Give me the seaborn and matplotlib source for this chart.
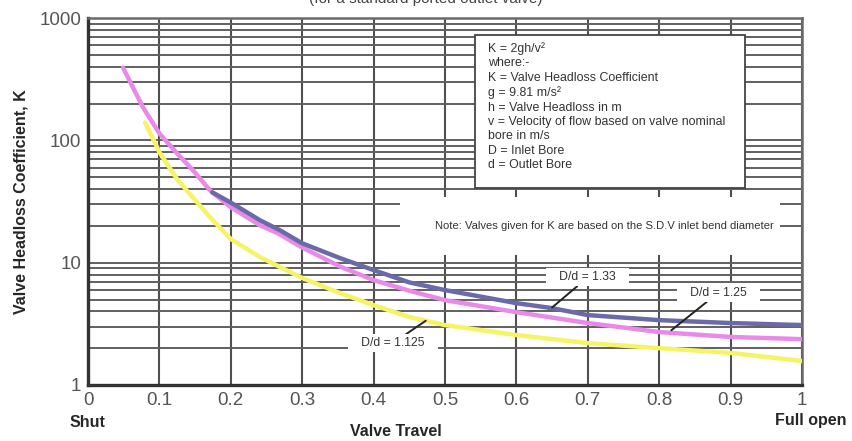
import numpy as np
import pandas as pd
import matplotlib
matplotlib.use("Agg")
import matplotlib.pyplot as plt
import seaborn as sns
from matplotlib.patches import Rectangle
from matplotlib.ticker import FixedLocator, LogLocator, NullFormatter

# Curves: valve travel vs headloss coefficient K
travel_133 = [0.174, 0.2, 0.241, 0.269, 0.3, 0.353, 0.4, 0.45, 0.5, 0.6, 0.65, 0.7, 0.8, 0.9, 1.0]
k_133 = [37.6, 31, 22.2, 18.4, 14.4, 10.9, 8.7, 6.9, 5.97, 4.67, 4.25, 3.73, 3.39, 3.21, 3.09]

travel_125 = [0.049, 0.077, 0.1, 0.125, 0.147, 0.171, 0.2, 0.241, 0.265, 0.3, 0.353,
              0.4, 0.45, 0.5, 0.6, 0.7, 0.8, 0.9, 1.0]
k_125 = [394, 186, 114, 78, 57, 39, 28.4, 20.2, 17.5, 13.3, 9.3,
         7.2, 5.9, 4.94, 3.94, 3.21, 2.71, 2.47, 2.37]

travel_1125 = [0.08, 0.1, 0.125, 0.147, 0.171, 0.2, 0.241, 0.3, 0.353, 0.4, 0.45,
               0.5, 0.6, 0.7, 0.8, 0.9, 1.0]
k_1125 = [140, 80, 48, 34, 23.5, 15.6, 11.1, 7.5, 5.64, 4.5, 3.6,
          3.09, 2.56, 2.2, 2.0, 1.83, 1.57]

x_ticks = [0, 0.1, 0.2, 0.3, 0.4, 0.5, 0.6, 0.7, 0.8, 0.9, 1]
x_tick_labels = ["0", "0.1", "0.2", "0.3", "0.4", "0.5", "0.6", "0.7", "0.8", "0.9", "1"]
y_ticks = [1, 10, 100, 1000]
y_tick_labels = ["1", "10", "100", "1000"]

box_text = ("K = 2gh/v\u00b2\nwhere:-\nK = Valve Headloss Coefficient\n"
            "g = 9.81 m/s\u00b2\nh = Valve Headloss in m\n"
            "v = Velocity of flow based on valve nominal\nbore in m/s\n"
            "D = Inlet Bore\nd = Outlet Bore")
note_text = "Note: Valves given for K are based on the S.D.V inlet bend diameter"

sns.set_style("white")
plt.rcParams['font.family'] = ['Liberation Sans', 'DejaVu Sans']

fig = plt.figure(figsize=(8.52, 4.41), dpi=100)
ax = fig.add_axes([0.1033, 0.127, 0.838, 0.832])

frames = [
    pd.DataFrame({"travel": travel_1125, "K": k_1125, "ratio": "1.125"}),
    pd.DataFrame({"travel": travel_125, "K": k_125, "ratio": "1.25"}),
    pd.DataFrame({"travel": travel_133, "K": k_133, "ratio": "1.33"}),
]
colors = {"1.125": "#f6f466", "1.25": "#e98ae8", "1.33": "#6b6aa8"}
for df in frames:
    r = df["ratio"].iloc[0]
    sns.lineplot(data=df, x="travel", y="K", ax=ax, color=colors[r], lw=3.2,
                 zorder=3, solid_capstyle="round", solid_joinstyle="round")

ax.set_yscale("log")
ax.set_xlim(0, 1)
ax.set_ylim(1, 1000)
ax.xaxis.set_major_locator(FixedLocator(x_ticks))
ax.set_xticklabels(x_tick_labels)
ax.yaxis.set_major_locator(FixedLocator(y_ticks))
ax.set_yticklabels(y_tick_labels)
ax.yaxis.set_minor_locator(LogLocator(base=10, subs=np.arange(2, 10)))
ax.yaxis.set_minor_formatter(NullFormatter())
ax.tick_params(axis="both", which="both", length=0, labelsize=13.5, labelcolor="#555555")
ax.tick_params(axis="x", pad=5)
ax.tick_params(axis="y", pad=5)

ax.grid(True, which="major", axis="x", color="#505050", lw=1.5)
ax.grid(True, which="both", axis="y", color="#606060", lw=1.4)
ax.set_axisbelow(True)

for side in ["left", "bottom"]:
    ax.spines[side].set_color("#333333")
    ax.spines[side].set_linewidth(2.4)
for side in ["top", "right"]:
    ax.spines[side].set_color("#6a6a6a")
    ax.spines[side].set_linewidth(1.8)

ax.set_ylabel("Valve Headloss Coefficient, K", fontsize=11.5, fontweight="bold", labelpad=8)
ax.set_xlabel("")
fig.text(0.465, 0.005, "Valve Travel", ha="center", va="bottom", fontsize=11.5, fontweight="bold")
fig.text(0.103, 0.025, "Shut", ha="center", va="bottom", fontsize=11.5, fontweight="bold")
fig.text(0.952, 0.03, "Full open", ha="center", va="bottom", fontsize=11.5, fontweight="bold")
fig.text(0.5, 1.003, "(for a standard ported outlet valve)", ha="center", va="center",
         fontsize=11, color="#444444")

# formula box
ax.add_patch(Rectangle((0.542, 0.537), 0.378, 0.417, transform=ax.transAxes,
                       fc="white", ec="#444444", lw=1.3, zorder=4))
ax.text(0.560, 0.935, box_text, transform=ax.transAxes, ha="left", va="top",
        fontsize=8.9, color="#333333", linespacing=1.27, zorder=5)

# note strip
ax.add_patch(Rectangle((0.437, 0.354), 0.532, 0.158, transform=ax.transAxes,
                       fc="white", ec="none", zorder=4))
ax.text(0.486, 0.433, note_text, transform=ax.transAxes, ha="left", va="center",
        fontsize=8.1, color="#333333", zorder=5)

lbl = dict(fontsize=8.8, color="#333333", zorder=6, ha="center", va="center",
           bbox=dict(boxstyle="square,pad=0.25", fc="white", ec="none"),
           arrowprops=dict(arrowstyle="-", color="#222222", lw=1.4, shrinkA=0, shrinkB=0))
ax.annotate("   D/d = 1.33   ", xy=(0.65, 4.3), xytext=(0.70, 7.6), **lbl)
ax.annotate("   D/d = 1.25   ", xy=(0.817, 2.8), xytext=(0.883, 5.7), **lbl)
ax.annotate("   D/d = 1.125   ", xy=(0.473, 3.35), xytext=(0.427, 2.2), **lbl)

fig.savefig("out.png", dpi=100)
